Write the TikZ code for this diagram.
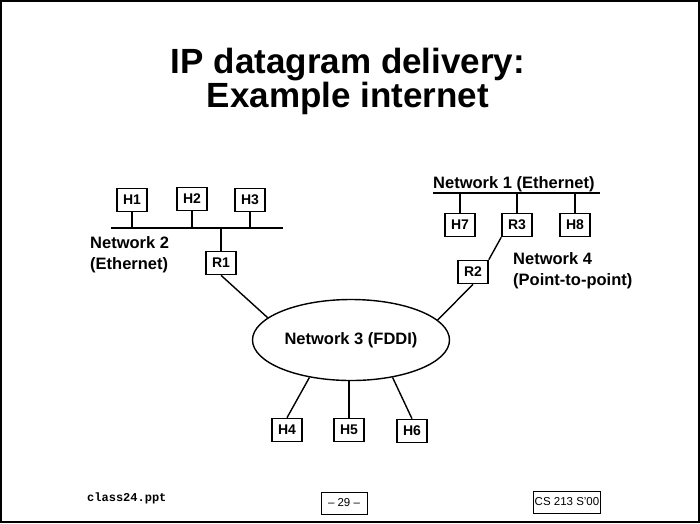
\documentclass[tikz,border=0pt]{standalone}
\usepackage{fontspec}
\setmainfont{Liberation Sans}
\setmonofont{Liberation Mono}
\usetikzlibrary{positioning,shapes.geometric}

\begin{document}
\begin{tikzpicture}[x=1pt,y=-1pt]
\tikzstyle{every node}+=[inner sep=0pt]
\tikzstyle{hostbox}=[draw,line width=1.6pt,minimum width=30pt,minimum height=23pt,font=\fontsize{14}{16}\selectfont\bfseries]
\tikzstyle{netlabel}=[font=\fontsize{16.5}{20.5}\selectfont\bfseries,align=left]
\tikzstyle{footbox}=[draw,line width=0.7pt,minimum height=22pt,inner xsep=1pt,font=\fontsize{11.5}{13}\selectfont]
\tikzstyle{wire}=[line width=1.4pt]
\tikzstyle{bus}=[line width=1.8pt]
\useasboundingbox (0,0) rectangle (700,523);
\draw [line width=2pt] (1,1) rectangle (699,522);
% title
\node [font=\fontsize{35}{35}\selectfont\bfseries,anchor=base] (title1) at (348,73) {IP datagram delivery:};
\node [font=\fontsize{35}{35}\selectfont\bfseries,anchor=base] (title2) at (348,107) {Example internet};
% network 2
\coordinate (bus2w) at (111,228);
\coordinate (bus2e) at (283,228);
\draw [bus] (bus2w) -- (bus2e);
\node [hostbox] (h1) at (132,200) {H1};
\node [hostbox] (h2) at (192,199) {H2};
\node [hostbox] (h3) at (250,200) {H3};
\node [hostbox] (r1) at (221,263) {R1};
\draw [wire] (h1) -- (h1 |- bus2w);
\draw [wire] (h2) -- (h2 |- bus2w);
\draw [wire] (h3) -- (h3 |- bus2w);
\draw [wire] (r1) -- (r1 |- bus2w);
\node [netlabel,anchor=base west] (net2) at (90,269) {Network 2\\(Ethernet)};
% network 1
\coordinate (bus1w) at (433,193);
\coordinate (bus1e) at (600,193);
\draw [bus] (bus1w) -- (bus1e);
\node [netlabel,anchor=base west] (net1) at (433,188) {Network 1 (Ethernet)};
\node [hostbox] (h7) at (460,225) {H7};
\node [hostbox] (r3) at (517,225) {R3};
\node [hostbox] (h8) at (575,225) {H8};
\draw [wire] (h7) -- (h7 |- bus1w);
\draw [wire] (r3) -- (r3 |- bus1w);
\draw [wire] (h8) -- (h8 |- bus1w);
% network 4
\node [hostbox] (r2) at (473,272) {R2};
\draw [wire] (r3.south west) -- (r2.north east);
\node [netlabel,anchor=base west] (net4) at (513,285) {Network 4\\(Point-to-point)};
% network 3
\node [ellipse,draw,line width=1.4pt,minimum width=197pt,minimum height=81pt,
  font=\fontsize{16.5}{20}\selectfont\bfseries] (net3) at (351,340) {Network 3 (FDDI)};
\draw [wire] (r1.south) -- (net3.165);
\draw [wire] (r2.south) -- (net3.13.5);
\node [hostbox] (h4) at (287,430) {H4};
\node [hostbox] (h5) at (349,430) {H5};
\node [hostbox] (h6) at (412,431) {H6};
\draw [wire] (net3.222) -- (h4.north);
\draw [wire] (h5.north) -- (h5.north |- net3.south);
\draw [wire] (net3.318) -- (h6.north);
% footer
\node [font=\fontsize{12}{14}\selectfont\ttfamily\bfseries,anchor=base west] (fname) at (87,501) {class24.ppt};
\node [footbox,minimum width=46pt] (page) at (344,503) {-- 29 --};
\node [footbox] (course) at (567,502) {CS 213 S'00};
\end{tikzpicture}
\end{document}
